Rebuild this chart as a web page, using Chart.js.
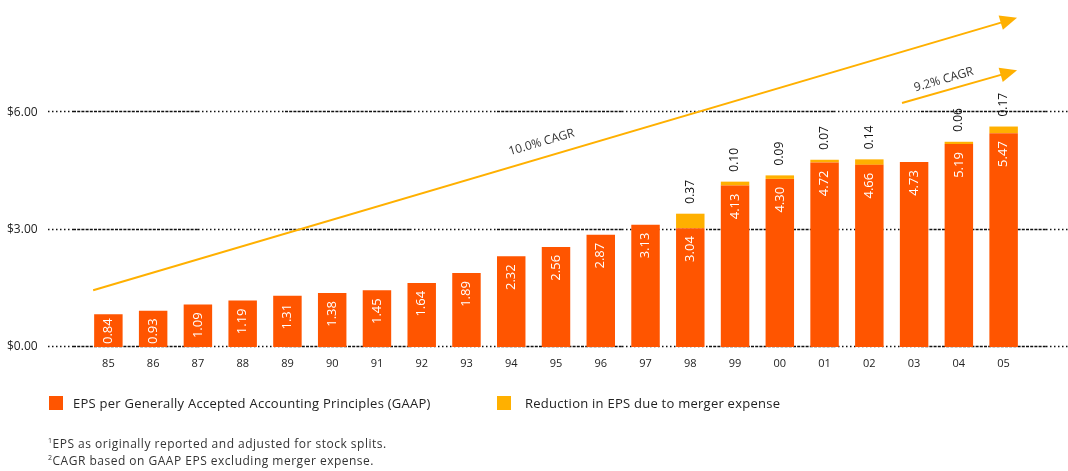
<!DOCTYPE html>
<html>
<head>
<meta charset="utf-8">
<title>EPS 1985-2005</title>
<script src="https://cdn.jsdelivr.net/npm/chart.js@4.4.1/dist/chart.umd.min.js"></script>
<style>
  body { margin: 0; background: #fff; }
  #wrap { position: relative; width: 1068px; height: 471px; overflow: hidden; font-family: "Open Sans", sans-serif; }
  #chart { position: absolute; left: 0; top: 0; }
  .legend-box { position: absolute; top: 396px; width: 14px; height: 14px; }
  .legend-text { position: absolute; top: 393px; font-size: 13px; letter-spacing: 0.25px; line-height: 20px; color: #222; white-space: nowrap; }
  .notes { position: absolute; left: 48px; top: 435px; font-size: 12px; letter-spacing: 0.5px; line-height: 17px; color: #333; white-space: nowrap; }
  .notes sup { font-size: 7px; vertical-align: 5px; line-height: 0; }
</style>
</head>
<body>
<div id="wrap">
  <canvas id="chart" width="1068" height="471"></canvas>
  <div class="legend-box" style="left:49px;background:#ff5500"></div>
  <div class="legend-text" style="left:73px">EPS per Generally Accepted Accounting Principles (GAAP)</div>
  <div class="legend-box" style="left:497px;background:#ffb000"></div>
  <div class="legend-text" style="left:525px">Reduction in EPS due to merger expense</div>
  <div class="notes">
    <div><sup>1</sup>EPS as originally reported and adjusted for stock splits.</div>
    <div><sup>2</sup>CAGR based on GAAP EPS excluding merger expense.</div>
  </div>
</div>
<script>
const years = ["85", "86", "87", "88", "89", "90", "91", "92", "93", "94", "95",
  "96", "97", "98", "99", "00", "01", "02", "03", "04", "05"];

// EPS GAAP (parte naranja)
const gaapEps = [0.84, 0.93, 1.09, 1.19, 1.31, 1.38, 1.45, 1.64, 1.89, 2.32, 2.56,
  2.87, 3.13, 3.04, 4.13, 4.30, 4.72, 4.66, 4.73, 5.19, 5.47];

// reduccion por gastos de fusion (parte amarilla), null = sin reduccion
const mergerReduction = [null, null, null, null, null, null, null, null, null, null, null,
  null, null, 0.37, 0.10, 0.09, 0.07, 0.14, null, 0.06, 0.17];

const yTicks = [0, 3, 6];

// flechas CAGR en coordenadas de datos: [indice de categoria, valor]
const cagrLabels = ["10.0% CAGR", "9.2% CAGR"];
const cagrStart = [[-0.34, 1.45], [17.73, 6.24]];
const cagrEnd = [[20.3, 8.42], [20.3, 7.08]];

const ORANGE = "#ff5500";
const YELLOW = "#ffb000";
const FONT = "'Open Sans', sans-serif";

// lineas de referencia punteadas (tramos de puntos y de guiones)
const gridLines = {
  id: "gridLines",
  beforeDatasetsDraw(chart) {
    const ctx = chart.ctx;
    const y = chart.scales.y;
    ctx.save();
    ctx.strokeStyle = "#111";
    ctx.lineWidth = 1.5;
    yTicks.forEach((v) => {
      const py = Math.round(y.getPixelForValue(v)) - 0.5;
      let x = 48;
      let dotted = true;
      let len = 25;
      while (x < chart.width) {
        const x2 = Math.min(x + len, chart.width);
        ctx.setLineDash(dotted ? [1.5, 2.5] : [3, 1.2]);
        ctx.beginPath();
        ctx.moveTo(x, py);
        ctx.lineTo(x2, py);
        ctx.stroke();
        x = x2;
        dotted = !dotted;
        len = dotted ? 87 : 125;
      }
    });
    ctx.restore();
  },
};

const barLabels = {
  id: "barLabels",
  afterDatasetsDraw(chart) {
    const ctx = chart.ctx;
    ctx.save();
    ctx.textBaseline = "middle";

    chart.getDatasetMeta(0).data.forEach((bar, i) => {
      const text = gaapEps[i].toFixed(2);
      ctx.font = "13px " + FONT;
      const w = ctx.measureText(text).width;
      const h = bar.base - bar.y;
      const gap = Math.min(8, Math.max(2, h - w - 3));
      ctx.save();
      ctx.translate(bar.x, bar.y + gap);
      ctx.rotate(-Math.PI / 2);
      ctx.textAlign = "right";
      ctx.fillStyle = "#fff";
      ctx.fillText(text, 0, 0);
      ctx.restore();
    });

    chart.getDatasetMeta(1).data.forEach((bar, i) => {
      if (mergerReduction[i] == null) return;
      ctx.save();
      ctx.translate(bar.x, bar.y - 10);
      ctx.rotate(-Math.PI / 2);
      ctx.textAlign = "left";
      ctx.font = "12px " + FONT;
      ctx.fillStyle = "#111";
      ctx.fillText(mergerReduction[i].toFixed(2), 0, 0);
      ctx.restore();
    });
    ctx.restore();
  },
};

const cagrArrows = {
  id: "cagrArrows",
  afterDatasetsDraw(chart) {
    const ctx = chart.ctx;
    const xs = chart.scales.x;
    const ys = chart.scales.y;
    const labelPos = [0.49, 0.39];
    const labelOff = [15, 11];
    ctx.save();
    cagrLabels.forEach((label, i) => {
      const x1 = xs.getPixelForValue(cagrStart[i][0]);
      const y1 = ys.getPixelForValue(cagrStart[i][1]);
      const x2 = xs.getPixelForValue(cagrEnd[i][0]);
      const y2 = ys.getPixelForValue(cagrEnd[i][1]);
      const ang = Math.atan2(y2 - y1, x2 - x1);
      const head = 17;
      const bx = x2 - head * Math.cos(ang);
      const by = y2 - head * Math.sin(ang);

      ctx.strokeStyle = YELLOW;
      ctx.fillStyle = YELLOW;
      ctx.lineWidth = 2;
      ctx.beginPath();
      ctx.moveTo(x1, y1);
      ctx.lineTo(bx + 2 * Math.cos(ang), by + 2 * Math.sin(ang));
      ctx.stroke();

      ctx.beginPath();
      ctx.moveTo(x2, y2);
      ctx.lineTo(bx + 7.5 * Math.sin(ang), by - 7.5 * Math.cos(ang));
      ctx.lineTo(bx - 7.5 * Math.sin(ang), by + 7.5 * Math.cos(ang));
      ctx.closePath();
      ctx.fill();

      // texto sobre la flecha
      const t = labelPos[i];
      const lx = x1 + (x2 - x1) * t + labelOff[i] * Math.sin(ang);
      const ly = y1 + (y2 - y1) * t - labelOff[i] * Math.cos(ang);
      ctx.save();
      ctx.translate(lx, ly);
      ctx.rotate(ang);
      ctx.font = "12px " + FONT;
      ctx.fillStyle = "#333";
      ctx.textAlign = "center";
      ctx.textBaseline = "middle";
      ctx.fillText(label, 0, 0);
      ctx.restore();
    });
    ctx.restore();
  },
};

new Chart(document.getElementById("chart"), {
  type: "bar",
  data: {
    labels: years,
    datasets: [
      {
        label: "EPS per Generally Accepted Accounting Principles (GAAP)",
        data: gaapEps,
        backgroundColor: ORANGE,
        barPercentage: 0.636,
        categoryPercentage: 1,
      },
      {
        label: "Reduction in EPS due to merger expense",
        data: mergerReduction,
        backgroundColor: YELLOW,
        barPercentage: 0.636,
        categoryPercentage: 1,
      },
    ],
  },
  options: {
    responsive: false,
    animation: false,
    layout: { padding: { top: 3, right: 42, bottom: 100, left: 7 } },
    plugins: {
      legend: { display: false },
      tooltip: { enabled: false },
    },
    scales: {
      x: {
        stacked: true,
        grid: { display: false, drawTicks: false },
        border: { display: false },
        ticks: { padding: 10, color: "#222", font: { family: FONT, size: 11 } },
        afterFit: (scale) => { scale.height = 24; },
      },
      y: {
        stacked: true,
        min: 0,
        max: 8.8,
        grid: { display: false, drawTicks: false },
        border: { display: false },
        afterBuildTicks: (scale) => { scale.ticks = yTicks.map((v) => ({ value: v })); },
        afterFit: (scale) => {
          scale.width = 79;
          scale.paddingTop = 0;
          scale.paddingBottom = 0;
        },
        ticks: {
          padding: 0,
          crossAlign: "far",
          color: "#222",
          font: { family: FONT, size: 12 },
          callback: (v) => "$" + Number(v).toFixed(2),
        },
      },
    },
  },
  plugins: [gridLines, barLabels, cagrArrows],
});
</script>
</body>
</html>
